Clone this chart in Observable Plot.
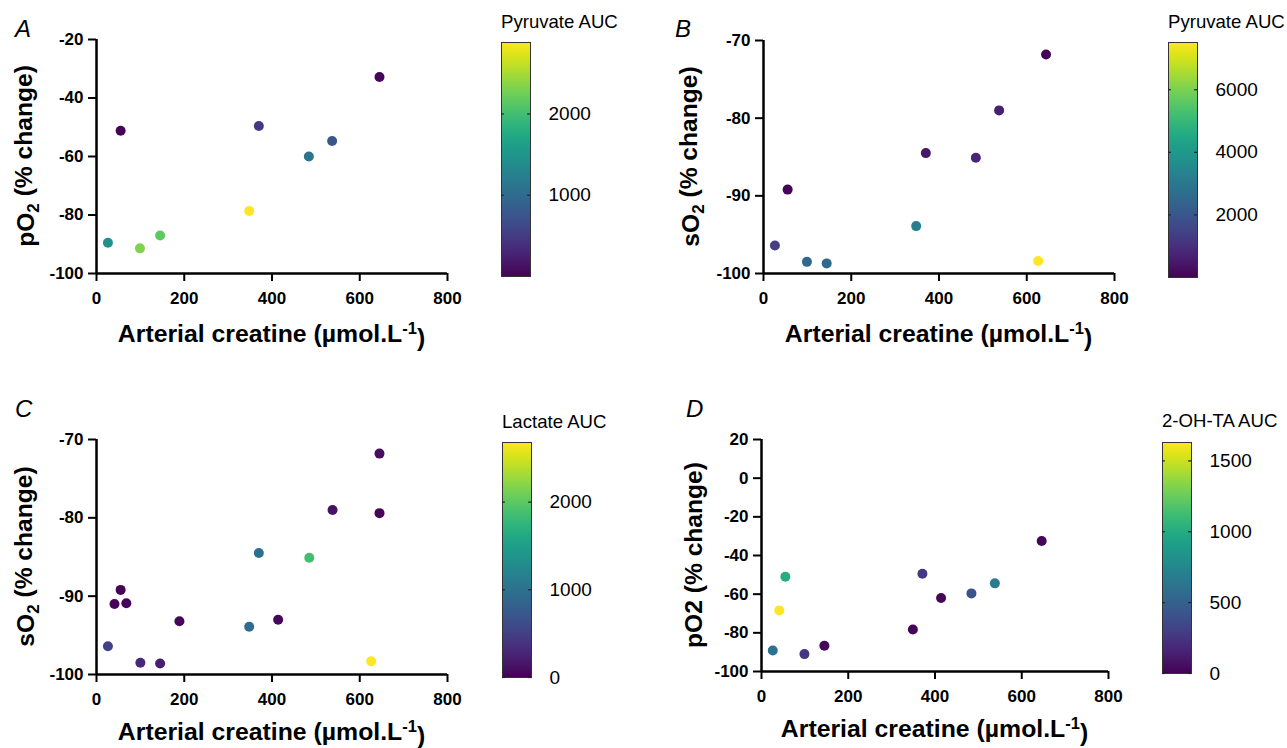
<!DOCTYPE html>
<html><head><meta charset="utf-8">
<script src="https://cdn.jsdelivr.net/npm/d3@7"></script>
<script src="https://cdn.jsdelivr.net/npm/@observablehq/plot@0.6"></script>
<style>
body{margin:0;background:#fff;}
#root{position:relative;width:1287px;height:748px;overflow:hidden;background:#fff;}
#root svg{position:absolute;}
</style></head><body><div id="root"></div>
<script>
// ---------- DATA ----------
const xTicks = [0, 200, 400, 600, 800];

// Panel A
const creatineA = [645, 55, 370, 537, 484, 348, 26, 99, 145];
const pO2A      = [-32.8, -51.2, -49.6, -54.7, -60.0, -78.6, -89.5, -91.4, -87.0];
const pyruvateA = [40, 30, 490, 780, 1100, 2880, 1440, 2330, 2170];
const yTicksA = [-100, -80, -60, -40, -20];
const cbTicksA = [1000, 2000];

// Panel B
const creatineB = [644, 537, 370, 484, 55, 348, 26, 99, 144, 626];
const sO2B      = [-71.8, -79.0, -84.5, -85.1, -89.2, -93.9, -96.4, -98.5, -98.7, -98.4];
const pyruvateB = [60, 650, 450, 800, 80, 3150, 1350, 2500, 2500, 7510];
const yTicksB = [-100, -90, -80, -70];
const cbTicksB = [2000, 4000, 6000];

// Panel C
const creatineC = [645, 538, 645, 370, 485, 55, 41, 68, 189, 414, 348, 26, 100, 145, 626];
const sO2C      = [-71.8, -79.0, -79.4, -84.5, -85.1, -89.2, -91.0, -90.9, -93.2, -93.0, -93.9, -96.4, -98.5, -98.6, -98.3];
const lactateC  = [90, 120, 30, 980, 1870, 30, 40, 40, 50, 50, 950, 520, 300, 220, 2680];
const yTicksC = [-100, -90, -80, -70];
const cbTicksC = [0, 1000, 2000];

// Panel D
const creatineD = [646, 371, 538, 484, 414, 55, 41, 349, 26, 99, 145];
const pO2D      = [-32.5, -49.4, -54.4, -59.6, -62.0, -51.0, -68.4, -78.3, -89.1, -91.0, -86.7];
const ohtaD     = [20, 270, 680, 410, 30, 1000, 1630, 20, 600, 260, 30];
const yTicksD = [-100, -80, -60, -40, -20, 0, 20];
const cbTicksD = [0, 500, 1000, 1500];

// ---------- DRAWING ----------
const FONT = '"Liberation Sans", Arial, Helvetica, sans-serif';
const root = document.getElementById("root");

function scatter(o) {
  const data = o.x.map((d, i) => ({x: d, y: o.y[i], c: o.c[i]}));
  const svg = Plot.plot({
    width: o.w, height: o.h,
    marginLeft: o.ml, marginRight: o.mr, marginTop: o.mt, marginBottom: o.mb,
    style: {fontFamily: FONT, fontSize: "17px", fontWeight: "bold", color: "black",
            background: "transparent", maxWidth: "none", overflow: "visible"},
    x: {domain: [0, 800]},
    y: {domain: o.yDomain},
    color: {type: "linear", scheme: "viridis", domain: [0, d3.max(o.c)]},
    marks: [
      Plot.axisX({ticks: xTicks, tickSize: 8, tickPadding: 10, strokeWidth: 2,
                  fontSize: 17, fontWeight: "bold",
                  tickFormat: d => String(d), label: null}),
      Plot.axisY({ticks: o.yTicks, tickSize: 8, tickPadding: 5, strokeWidth: 2,
                  fontSize: 17, fontWeight: "bold",
                  tickFormat: d => String(d), label: null}),
      Plot.ruleX([0], {strokeWidth: 2.5}),
      Plot.ruleY([o.yDomain[0]], {strokeWidth: 2.5}),
      Plot.dot(data, {x: "x", y: "y", fill: "c", r: 5})
    ]
  });
  svg.style.left = o.left + "px";
  svg.style.top = o.top + "px";
  const s = d3.select(svg);
  // x title
  const xt = s.append("text").attr("x", o.ml + (o.w - o.ml - o.mr) / 2).attr("y", o.xTitleY)
    .attr("text-anchor", "middle").attr("fill", "black")
    .style("font-size", "24.8px").style("font-weight", "bold").style("font-family", FONT);
  xt.append("tspan").text("Arterial creatine (µmol.L");
  xt.append("tspan").attr("dy", "-0.5em").style("font-size", "16.5px").text("-1");
  xt.append("tspan").attr("dy", "0.5em").text(")");
  // y title
  const yt = s.append("text")
    .attr("transform", `translate(${o.yTitleX},${o.mt + (o.h - o.mt - o.mb) / 2}) rotate(-90)`)
    .attr("text-anchor", "middle").attr("fill", "black")
    .style("font-size", "24.6px").style("font-weight", "bold").style("font-family", FONT);
  yt.append("tspan").text(o.yPre);
  if (o.ySub) {
    yt.append("tspan").attr("dy", "0.3em").style("font-size", "17px").text(o.ySub);
    yt.append("tspan").attr("dy", "-0.3em").text(" (% change)");
  } else {
    yt.append("tspan").text(" (% change)");
  }
  // panel letter
  s.append("text").attr("x", o.letterX).attr("y", o.letterY).attr("fill", "black")
    .attr("text-anchor", "start")
    .style("font-size", "24px").style("font-style", "italic").style("font-weight", "normal")
    .style("font-family", FONT).text(o.letter);
  root.appendChild(svg);
}

function colorbar(o) {
  const id = "grad" + o.letter;
  const svg = Plot.plot({
    width: o.w, height: o.h,
    marginLeft: o.ml, marginRight: o.w - o.ml - 29, marginTop: o.mt, marginBottom: o.mb,
    style: {fontFamily: FONT, fontSize: "19px", fontWeight: "normal", color: "black",
            background: "transparent", maxWidth: "none", overflow: "visible"},
    x: {domain: [0, 1], axis: null},
    y: {domain: [0, o.max]},
    marks: [
      Plot.frame({fill: `url(#${id})`, stroke: "#333", strokeWidth: 1}),
      Plot.ruleY(o.ticks, {x1: 0, x2: 0.1, stroke: "#222", strokeWidth: 1.2}),
      Plot.ruleY(o.ticks, {x1: 0.9, x2: 1, stroke: "#222", strokeWidth: 1.2}),
      Plot.axisY({anchor: "right", ticks: o.ticks, tickSize: 0, tickPadding: 18,
                  fontSize: 19, tickFormat: d => String(d), label: null})
    ]
  });
  svg.style.left = o.left + "px";
  svg.style.top = o.top + "px";
  const s = d3.select(svg);
  const g = s.append("defs").append("linearGradient").attr("id", id)
    .attr("x1", 0).attr("y1", 1).attr("x2", 0).attr("y2", 0);
  d3.range(0, 1.0001, 0.05).forEach(t =>
    g.append("stop").attr("offset", t).attr("stop-color", d3.interpolateViridis(t)));
  s.append("text").attr("x", o.ml).attr("y", o.titleY).attr("fill", "black")
    .attr("text-anchor", "start")
    .style("font-size", "18.6px").style("font-family", FONT).text(o.title);
  root.appendChild(svg);
}

// Panel A
scatter({x: creatineA, y: pO2A, c: pyruvateA, yDomain: [-100, -20], yTicks: yTicksA,
  left: 0, top: 0, w: 470, h: 360, ml: 96, mr: 23, mt: 39, mb: 87,
  xTitleY: 342, yTitleX: 34, yPre: "pO", ySub: "2", letter: "A", letterX: 15, letterY: 37});
colorbar({max: d3.max(pyruvateA), ticks: cbTicksA, title: "Pyruvate AUC", letter: "A",
  left: 440, top: 0, w: 200, h: 300, ml: 61, mt: 42, mb: 24, titleY: 28});

// Panel B
scatter({x: creatineB, y: sO2B, c: pyruvateB, yDomain: [-100, -70], yTicks: yTicksB,
  left: 640, top: 0, w: 480, h: 360, ml: 123, mr: 6, mt: 40, mb: 87,
  xTitleY: 342, yTitleX: 59, yPre: "sO", ySub: "2", letter: "B", letterX: 35, letterY: 37});
colorbar({max: d3.max(pyruvateB), ticks: cbTicksB, title: "Pyruvate AUC", letter: "B",
  left: 1120, top: 0, w: 167, h: 300, ml: 48, mt: 42, mb: 23, titleY: 28});

// Panel C
scatter({x: creatineC, y: sO2C, c: lactateC, yDomain: [-100, -70], yTicks: yTicksC,
  left: 0, top: 380, w: 470, h: 368, ml: 96, mr: 23, mt: 59, mb: 74,
  xTitleY: 360, yTitleX: 34, yPre: "sO", ySub: "2", letter: "C", letterX: 15, letterY: 37});
colorbar({max: d3.max(lactateC), ticks: cbTicksC, title: "Lactate AUC", letter: "C",
  left: 440, top: 390, w: 200, h: 310, ml: 62, mt: 52, mb: 23, titleY: 38});

// Panel D
scatter({x: creatineD, y: pO2D, c: ohtaD, yDomain: [-100, 20], yTicks: yTicksD,
  left: 640, top: 380, w: 480, h: 368, ml: 121, mr: 12, mt: 59, mb: 77,
  xTitleY: 357, yTitleX: 62, yPre: "pO2", ySub: null, letter: "D", letterX: 46, letterY: 37});
colorbar({max: d3.max(ohtaD), ticks: cbTicksD, title: "2-OH-TA AUC", letter: "D",
  left: 1120, top: 390, w: 167, h: 310, ml: 42, mt: 52, mb: 27, titleY: 37});
</script>
</body></html>
